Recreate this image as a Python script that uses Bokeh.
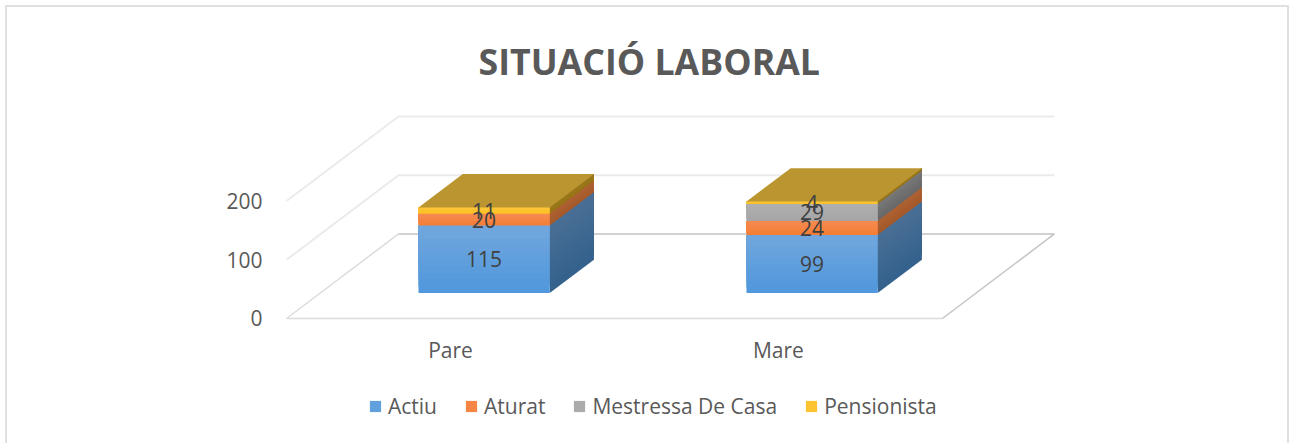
from bokeh.plotting import figure
from bokeh.models import Legend, LegendItem, FixedTicker, Range1d, Title
from bokeh.core.properties import value
from bokeh.embed import file_html
from bokeh.resources import INLINE

categories = ["Pare", "Mare"]
series = ["Actiu", "Aturat", "Mestressa De Casa", "Pensionista"]
actiu = [115, 99]
aturat = [20, 24]
mestressa = [0, 29]
pensionista = [11, 4]
y_ticks = [0, 100, 200]
title_text = "SITUACIÓ LABORAL"

# styles
FONT = "Open Sans"
front_top = ["#72a7dd", "#f58b52", "#b0b0b0", "#fdc63d"]
front_bot = ["#4f97dc", "#f57d33", "#a5a5a5", "#fdbf20"]
side_top = ["#4a6f95", "#ae6333", "#787878", "#9c7a1f"]
side_bot = ["#33618c", "#a4582a", "#686868", "#967312"]
top_color = "#bb9530"

# oblique projection of the 3-D chart (data units)
DX, DY = 0.3415, 144.0   # offset of the back wall in x and in value units
D0, D1 = 0.30, 0.695     # front and back depth of bars
HALF = 0.2               # half bar width
X0, X1 = -0.5, 1.5


def proj(x, v, d):
    return x + d * DX, v + d * DY


def mix(a, b, t):
    ca = [int(a[i:i + 2], 16) for i in (1, 3, 5)]
    cb = [int(b[i:i + 2], 16) for i in (1, 3, 5)]
    return "#%02x%02x%02x" % tuple(round(p + (q - p) * t) for p, q in zip(ca, cb))


p = figure(width=1280, height=436, frame_width=792, frame_height=341,
           x_range=Range1d(-0.555, 1.86), y_range=Range1d(-190.8, 390),
           output_backend="svg", toolbar_location=None,
           min_border_left=261, min_border_right=227, min_border_top=82, min_border_bottom=13,
           outline_line_color=None, border_fill_color="white",
           styles={"border-left": "2px solid #e0e0e0", "border-right": "2px solid #e0e0e0",
                   "border-top": "2px solid #e0e0e0", "margin-left": "5px", "margin-top": "5px"})
p.grid.visible = False
p.outline_line_color = None

# floor and walls
for v, c in ((100, "#ebebeb"), (200, "#ebebeb")):
    xa, ya = proj(X0, v, 0)
    xb, yb = proj(X0, v, 1)
    xc, yc = proj(X1, v, 1)
    p.line([xa, xb, xc], [ya, yb, yc], line_color=c, line_width=2)
xa, ya = proj(X0, 0, 0)
xb, yb = proj(X0, 0, 1)
xc, yc = proj(X1, 0, 1)
xd, yd = proj(X1, 0, 0)
p.line([xd, xa, xb], [yd, ya, yb], line_color="#dcdcdc", line_width=1.5)
p.line([xb, xc, xd], [yb, yc, yd], line_color="#c4c4c4", line_width=1.5)

# stacked boxes: each shade is painted from its level up to the segment top, so no seams show
stack = [actiu, aturat, mestressa, pensionista]
legend_renderers = {}
STRIPS = 10
for i, cat in enumerate(categories):
    base = 0
    for s, vals in enumerate(stack):
        v = vals[i]
        top = base + v
        for k in range(STRIPS if v else 0):
            lo = base + v * k / STRIPS
            t = (k + 0.5) / STRIPS
            c = mix(side_bot[s], side_top[s], t)
            pts = [proj(i + HALF, lo, D0), proj(i + HALF, lo, D1), proj(i + HALF, top, D1), proj(i + HALF, top, D0)]
            p.patch([q[0] for q in pts], [q[1] for q in pts], fill_color=c, line_color=None)
            c = mix(front_bot[s], front_top[s], t)
            pts = [proj(i - HALF, lo, D0), proj(i + HALF, lo, D0), proj(i + HALF, top, D0), proj(i - HALF, top, D0)]
            r = p.patch([q[0] for q in pts], [q[1] for q in pts], fill_color=c, line_color=None)
            if k == STRIPS // 2:
                legend_renderers.setdefault(s, r)
        base = top
    pts = [proj(i - HALF, base, D0), proj(i + HALF, base, D0), proj(i + HALF, base, D1), proj(i - HALF, base, D1)]
    p.patch([q[0] for q in pts], [q[1] for q in pts], fill_color=top_color, line_color=None)

# data labels
for i, cat in enumerate(categories):
    base = 0
    for s, vals in enumerate(stack):
        v = vals[i]
        if v:
            x, y = proj(i, base + v / 2, D0)
            p.text([x], [y], text=[str(v)], text_font=value(FONT), text_font_size="21px",
                   text_color="#404040", text_align="center", text_baseline="middle")
        base += v

# legend
legend_items = [LegendItem(label=name, renderers=[legend_renderers[s]]) for s, name in enumerate(series)]
legend = Legend(items=legend_items, orientation="horizontal", location=(100, 10),
                label_text_font=FONT, label_text_font_size="21px", label_text_color="#595959",
                border_line_color=None, background_fill_alpha=0, glyph_width=14, glyph_height=14,
                label_standoff=6, spacing=27, margin=0, padding=0)
p.add_layout(legend)

# axes
p.xaxis.ticker = FixedTicker(ticks=list(range(len(categories))))
p.xaxis.major_label_overrides = {i: c for i, c in enumerate(categories)}
p.yaxis.ticker = FixedTicker(ticks=y_ticks)
for ax in (p.xaxis[0], p.yaxis[0]):
    ax.axis_line_color = None
    ax.major_tick_line_color = None
    ax.minor_tick_line_color = None
    ax.major_label_text_font = FONT
    ax.major_label_text_font_size = "21px"
    ax.major_label_text_color = "#595959"
p.xaxis.major_label_standoff = -101
p.yaxis.major_label_standoff = 0

p.title = Title(text=title_text, align="left", offset=210, text_font=FONT, text_font_size="35.7px",
                text_font_style="bold", text_color="#595959")

open("out.html", "w").write(file_html(p, INLINE))
